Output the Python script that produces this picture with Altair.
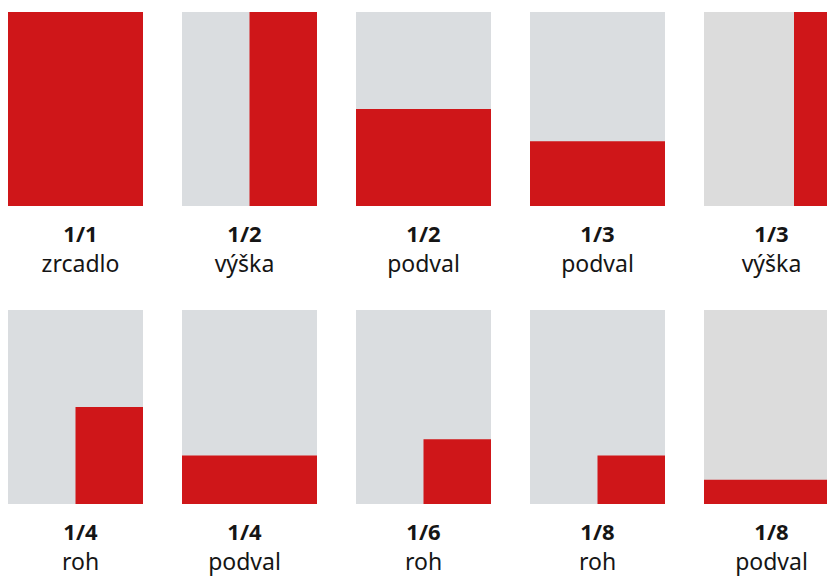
import altair as alt
import pandas as pd

# --- data ---------------------------------------------------------------
fractions = ["1/1", "1/2", "1/2", "1/3", "1/3", "1/4", "1/4", "1/6", "1/8", "1/8"]
names = ["zrcadlo", "výška", "podval", "podval", "výška", "roh", "podval", "roh", "roh", "podval"]
# share of the page width / height taken by the red ad (anchored bottom-right)
red_w = [1, 1 / 2, 1, 1, 1 / 3, 1 / 2, 1, 1 / 2, 1 / 2, 1]
red_h = [1, 1, 1 / 2, 1 / 3, 1, 1 / 2, 1 / 4, 1 / 3, 1 / 4, 1 / 8]

# --- layout / style -----------------------------------------------------
W, H = 819, 569
COLS = 5
PITCH_X, PITCH_Y = 174, 298
PAGE_W, PAGE_H = 135, 194
TOP0 = 4
LABEL_DX = [5, -5, 0, 0, 0]
GREYS = ["#dadde0", "#dadde0", "#dadde0", "#dadde0", "#dcdcdc"]
RED = "#cf1619"
TEXT = "#151515"
FONT = "Noto Sans"

rows = []
for i, (f, n, rw, rh) in enumerate(zip(fractions, names, red_w, red_h)):
    c, r = i % COLS, i // COLS
    left = c * PITCH_X
    top = TOP0 + r * PITCH_Y
    right = left + PAGE_W
    bottom = top + PAGE_H
    rows.append(dict(
        idx=i, frac=f, name=n,
        px0=left, px1=right, py0=top, py1=bottom,
        rx0=right - rw * PAGE_W, rx1=right, ry0=bottom - rh * PAGE_H, ry1=bottom,
        grey=GREYS[c],
        lx=left + PAGE_W / 2 + LABEL_DX[c],
        ly1=bottom + 36, ly2=bottom + 66,
    ))
df = pd.DataFrame(rows)

xs = alt.Scale(domain=[0, W], range=[0, W])
ys = alt.Scale(domain=[0, H], range=[0, H])

base = alt.Chart(df)

pages = base.mark_rect().encode(
    x=alt.X("px0:Q", scale=xs, axis=None),
    x2="px1:Q",
    y=alt.Y("py0:Q", scale=ys, axis=None),
    y2="py1:Q",
    color=alt.Color("grey:N", scale=None),
)

ads = base.mark_rect(color=RED).encode(
    x=alt.X("rx0:Q", scale=xs, axis=None),
    x2="rx1:Q",
    y=alt.Y("ry0:Q", scale=ys, axis=None),
    y2="ry1:Q",
)

frac_text = base.mark_text(
    font=FONT, fontSize=22, fontWeight="bold", color=TEXT,
    align="center", baseline="alphabetic",
).encode(
    x=alt.X("lx:Q", scale=xs, axis=None),
    y=alt.Y("ly1:Q", scale=ys, axis=None),
    text="frac:N",
)

name_text = base.mark_text(
    font=FONT, fontSize=23, color=TEXT,
    align="center", baseline="alphabetic",
).encode(
    x=alt.X("lx:Q", scale=xs, axis=None),
    y=alt.Y("ly2:Q", scale=ys, axis=None),
    text="name:N",
)

chart = alt.layer(pages, ads, frac_text, name_text).properties(
    width=W, height=H, padding=0, autosize=alt.AutoSizeParams(type="none"),
).configure_view(stroke=None)

chart.save("out.html", embed_options={"renderer": "svg", "actions": False})
